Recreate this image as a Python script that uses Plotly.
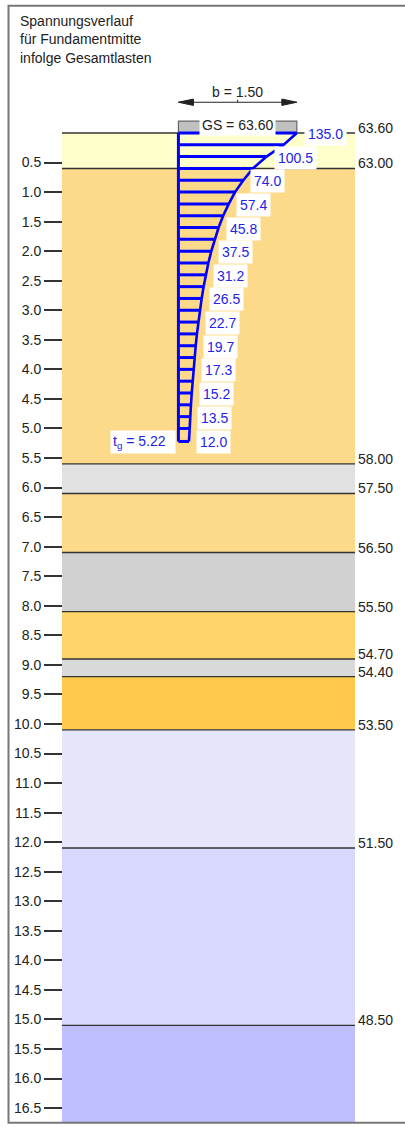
import plotly.graph_objects as go

# --- Soil profile (elevations in m NN, ground surface first) ---
ground_level = 63.60
layer_tops = [63.60, 63.00, 58.00, 57.50, 56.50, 55.50, 54.70, 54.40, 53.50, 51.50, 48.50]
layer_colors = ["#FFFFCC", "#FDDA8A", "#E1E1E1", "#FDDA8A", "#D1D1D1", "#FFD468",
                "#D9D9D9", "#FFC94C", "#E6E6FA", "#D8D8FF", "#BFBFFF"]
profile_bottom = 16.74          # depth below ground where the profile ends

# --- Vertical stress below the footing centre (kN/m²) ---
depths = [0.0, 0.2, 0.4, 0.6, 0.8, 1.0, 1.2, 1.4, 1.6, 1.8, 2.0, 2.2, 2.4, 2.6,
          2.8, 3.0, 3.2, 3.4, 3.6, 3.8, 4.0, 4.2, 4.4, 4.6, 4.8, 5.0, 5.22]
stresses = [135.0, 120.0, 100.5, 85.0, 74.0, 64.5, 57.4, 51.0, 45.8, 41.3, 37.5,
            34.1, 31.2, 28.7, 26.5, 24.5, 22.7, 21.1, 19.7, 18.4, 17.3, 16.2,
            15.2, 14.3, 13.5, 12.7, 12.0]
label_step = 2                  # every second stress value is labelled
limit_depth = 5.22              # t_g
footing_width = 1.50            # b

depth_ticks = [0.5 * i for i in range(1, 34)]
title_lines = ["Spannungsverlauf", "für Fundamentmitte", "infolge Gesamtlasten"]

# --- Geometry / style ---
W, H = 405, 1127
X_RANGE = [-2.26, 2.87]         # metres
Y_RANGE = [16.82, -2.25]        # depth, downward
BAND = (-1.475, 2.237)
FONT = "Arial, 'Liberation Sans', sans-serif"
BLUE = "#0000FF"
LABEL_BLUE = "#2424E6"
TXT = "#222222"

px_per_m_x = W / (X_RANGE[1] - X_RANGE[0])
px_per_m_y = H / (Y_RANGE[0] - Y_RANGE[1])
stress_scale = stresses[0] / footing_width          # kN/m² per metre of drawing
X2_RANGE = [X_RANGE[0] * stress_scale, X_RANGE[1] * stress_scale]

fig = go.Figure()

# Soil layers
layer_depths = [round(ground_level - e, 3) for e in layer_tops]
layer_bottoms = layer_depths[1:] + [profile_bottom]
for top, bot, col in zip(layer_depths, layer_bottoms, layer_colors):
    fig.add_shape(type="rect", xref="x", yref="y", x0=BAND[0], x1=BAND[1],
                  y0=top, y1=bot, fillcolor=col, line_width=0, layer="below")
for d in layer_depths:
    fig.add_shape(type="line", xref="x", yref="y", x0=BAND[0], x1=BAND[1],
                  y0=d, y1=d, line=dict(color="#333333", width=1.4), layer="below")

# Footing block
footing_h = 0.2
fig.add_shape(type="rect", xref="x", yref="y", x0=0, x1=footing_width,
              y0=-footing_h, y1=0, fillcolor="#C0C0C0",
              line=dict(color="#666666", width=1.2), layer="below")

# Dimension line for b
dim_y = -0.52
arrow_len = 15 / px_per_m_x
arrow_half = 3.2 / px_per_m_y
fig.add_shape(type="line", xref="x", yref="y", x0=0, x1=footing_width,
              y0=dim_y, y1=dim_y, line=dict(color=TXT, width=1.2))
fig.add_shape(type="line", xref="x", yref="y", x0=footing_width / 2, x1=footing_width / 2,
              y0=dim_y, y1=dim_y - 2.5 / px_per_m_y, line=dict(color=TXT, width=1))
for tip, sgn in [(0.0, 1), (footing_width, -1)]:
    base = tip + sgn * arrow_len
    fig.add_shape(type="path", xref="x", yref="y",
                  path=f"M{tip},{dim_y} L{base},{dim_y - arrow_half} L{base},{dim_y + arrow_half} Z",
                  fillcolor=TXT, line=dict(color=TXT, width=1))

# Stress hatching, outline and curve
hx, hy = [], []
for d, s in zip(depths, stresses):
    hx += [0, s, None]
    hy += [d, d, None]
fig.add_trace(go.Scatter(x=hx, y=hy, xaxis="x2", yaxis="y", mode="lines",
                         line=dict(color=BLUE, width=3), hoverinfo="skip", showlegend=False))
fig.add_trace(go.Scatter(x=[0, 0], y=[depths[0], depths[-1]], xaxis="x2", yaxis="y",
                         mode="lines", line=dict(color=BLUE, width=3),
                         hoverinfo="skip", showlegend=False))
fig.add_trace(go.Scatter(x=stresses, y=depths, xaxis="x2", yaxis="y", mode="lines",
                         line=dict(color=BLUE, width=2.6), hoverinfo="skip", showlegend=False))

annotations = []
# Stress labels
for i in range(0, len(depths), label_step):
    annotations.append(dict(xref="x2", yref="y", x=stresses[i], y=depths[i],
                            xanchor="left", yanchor="middle", xshift=7, yshift=-1,
                            text=f"{stresses[i]:.1f}", showarrow=False,
                            bgcolor="white", borderpad=3,
                            font=dict(family=FONT, size=14, color=LABEL_BLUE)))
# Limit depth
annotations.append(dict(xref="x2", yref="y", x=0, y=limit_depth, xanchor="right",
                        yanchor="middle", xshift=-2, yshift=-1,
                        text=f"t<sub>g</sub> = {limit_depth:.2f}&nbsp;&nbsp;", showarrow=False,
                        bgcolor="white", borderpad=2,
                        font=dict(family=FONT, size=14, color=LABEL_BLUE)))
# Elevation labels
for e, d in zip(layer_tops, layer_depths):
    annotations.append(dict(xref="x", yref="y", x=BAND[1], y=d, xanchor="left",
                            yanchor="middle", xshift=1, yshift=5, text=f"{e:.2f}",
                            showarrow=False, font=dict(family=FONT, size=14, color=TXT)))
# Footing labels
annotations.append(dict(xref="x", yref="y", x=footing_width / 2, y=-footing_h / 2,
                        yshift=2, text=f"GS = {ground_level:.2f}", showarrow=False,
                        bgcolor="white", borderpad=2,
                        font=dict(family=FONT, size=14, color=TXT)))
annotations.append(dict(xref="x", yref="y", x=footing_width / 2, y=dim_y, yshift=10,
                        text=f"b = {footing_width:.2f}", showarrow=False,
                        font=dict(family=FONT, size=14, color=TXT)))
# Title block
for k, line in enumerate(title_lines):
    annotations.append(dict(xref="paper", yref="paper", x=18 / W,
                            y=1 - (20.5 + 19 * k) / H, xanchor="left", yanchor="middle",
                            text=line, showarrow=False,
                            font=dict(family=FONT, size=14, color=TXT)))

# Outer frame
fig.add_shape(type="rect", xref="paper", yref="paper", x0=8.5 / W, x1=1.02,
              y0=1 - 1122.7 / H, y1=1 - 5.7 / H, line=dict(color="#777777", width=2))

fig.update_layout(
    width=W, height=H, margin=dict(l=0, r=0, t=0, b=0, pad=0),
    paper_bgcolor="white", plot_bgcolor="white", showlegend=False,
    font=dict(family=FONT, size=14, color=TXT),
    xaxis=dict(range=X_RANGE, domain=[0, 1], visible=False, fixedrange=True),
    xaxis2=dict(range=X2_RANGE, overlaying="x", visible=False, fixedrange=True),
    yaxis=dict(range=Y_RANGE, domain=[0, 1], anchor="free", position=62 / W,
               tickvals=depth_ticks, ticktext=[f"{t:.1f}" for t in depth_ticks],
               ticks="outside", ticklen=18, tickwidth=1.5, tickcolor="#333333",
               showgrid=False, zeroline=False, showline=False, fixedrange=True,
               tickfont=dict(family=FONT, size=14, color=TXT)),
    annotations=annotations,
)

fig.write_html("out.html")
